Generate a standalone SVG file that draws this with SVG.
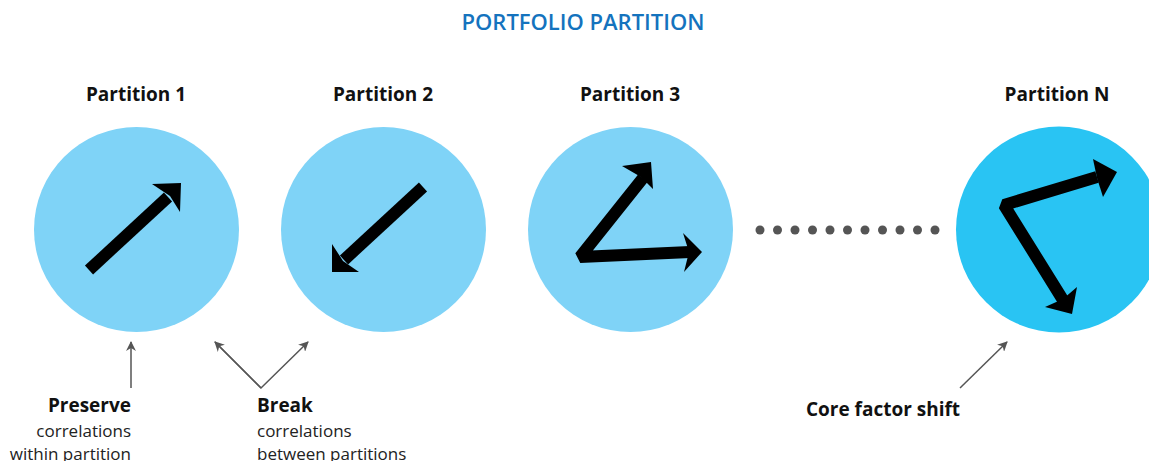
<svg xmlns="http://www.w3.org/2000/svg" width="1149" height="461" viewBox="0 0 1149 461">
<defs>
<marker id="ah" viewBox="0 0 10 10" refX="9" refY="5" markerWidth="10" markerHeight="10" markerUnits="userSpaceOnUse" orient="auto">
<path d="M0,0 L10,5 L0,10 L3,5 Z" fill="#555"/>
</marker>
</defs>
<style>
.title{font-family:"Open Sans","Liberation Sans",sans-serif;font-weight:600;font-size:22px;fill:#1473BE}
.lbl{font-family:"Open Sans","Liberation Sans",sans-serif;font-weight:700;font-size:19px;fill:#111}
.txt{font-family:"Open Sans","Liberation Sans",sans-serif;font-size:17px;fill:#222}
.c{fill:#7FD3F7}
.cn{fill:#29C4F3}
.shaft{fill:none;stroke:#000;stroke-width:12;stroke-linejoin:bevel}
.head{fill:#000}
.ann{fill:none;stroke:#555;stroke-width:1.5}
.dot{fill:#555}
</style>
<rect width="1149" height="461" fill="#fff"/>
<text class="title" x="583" y="30" text-anchor="middle">PORTFOLIO PARTITION</text>

<g id="partition1">
<text class="lbl" x="136" y="101" text-anchor="middle">Partition 1</text>
<circle class="c" cx="136.5" cy="229.5" r="102.5"/>
<line class="shaft" x1="89" y1="270" x2="168" y2="197"/>
<polygon class="head" points="152,184 181,183 180,212 170,196"/>
</g>

<g id="partition2">
<text class="lbl" x="383" y="101" text-anchor="middle">Partition 2</text>
<circle class="c" cx="383.5" cy="229.5" r="102.5"/>
<line class="shaft" x1="423" y1="187" x2="344" y2="260"/>
<polygon class="head" points="332,244 332,272 359,272 343,261"/>
</g>

<g id="partition3">
<text class="lbl" x="630" y="101" text-anchor="middle">Partition 3</text>
<circle class="c" cx="630.5" cy="229.5" r="102.5"/>
<polyline class="shaft" points="643,178 580,257 690,252"/>
<polygon class="head" points="622,166 651,162 653,189 641,177"/>
<polygon class="head" points="683,233 702,252 684,272 689,252"/>
</g>

<g id="dots">
<circle class="dot" cx="760" cy="230" r="4.5"/>
<circle class="dot" cx="777.5" cy="230" r="4.5"/>
<circle class="dot" cx="795" cy="230" r="4.5"/>
<circle class="dot" cx="812.5" cy="230" r="4.5"/>
<circle class="dot" cx="830" cy="230" r="4.5"/>
<circle class="dot" cx="847.5" cy="230" r="4.5"/>
<circle class="dot" cx="865" cy="230" r="4.5"/>
<circle class="dot" cx="882.5" cy="230" r="4.5"/>
<circle class="dot" cx="900" cy="230" r="4.5"/>
<circle class="dot" cx="917.5" cy="230" r="4.5"/>
<circle class="dot" cx="935" cy="230" r="4.5"/>
</g>

<g id="partitionN">
<text class="lbl" x="1057" y="101" text-anchor="middle">Partition N</text>
<circle class="cn" cx="1059" cy="229.5" r="103"/>
<polyline class="shaft" points="1097,177 1004,205 1063,300"/>
<polygon class="head" points="1093,159 1117,172 1103,197 1097,178"/>
<polygon class="head" points="1077,287 1072,314 1045,307 1063,299"/>
</g>

<g id="connectors">
<line class="ann" x1="131" y1="388" x2="131" y2="342" marker-end="url(#ah)"/>
<polyline class="ann" points="215,342 261,388 308,342" marker-end="url(#ah)"/>
<line class="ann" x1="261" y1="388" x2="215" y2="342" marker-end="url(#ah)"/>
<line class="ann" x1="960" y1="388" x2="1007" y2="342" marker-end="url(#ah)"/>
</g>

<g id="preserve">
<text class="lbl" x="131" y="412" text-anchor="end">Preserve</text>
<text class="txt" x="131" y="437" text-anchor="end">correlations</text>
<text class="txt" x="131" y="460" text-anchor="end">within partition</text>
</g>
<g id="break">
<text class="lbl" x="257" y="412">Break</text>
<text class="txt" x="257" y="437">correlations</text>
<text class="txt" x="257" y="460">between partitions</text>
</g>
<g id="corefactor">
<text class="lbl" x="883" y="416" text-anchor="middle">Core factor shift</text>
</g>
</svg>
